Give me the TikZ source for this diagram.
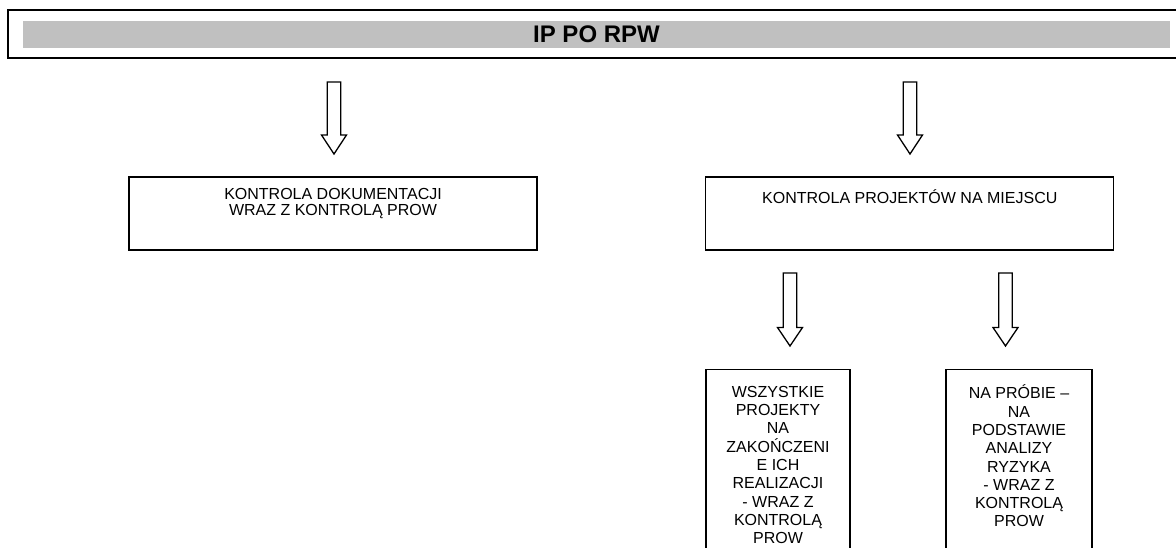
\documentclass[tikz,border=0pt]{standalone}
\usepackage{fontspec}
\setmainfont{Liberation Sans}
\usetikzlibrary{calc}
\definecolor{bandgrey}{HTML}{C0C0C0}
\tikzset{
  frame/.style={draw=black, line width=1.3pt, inner sep=0pt},
  boxtext/.style={align=center, inner sep=0pt, font=\fontsize{16}{16}\selectfont},
  smalltext/.style={align=center, inner sep=0pt, font=\fontsize{16}{18.3}\selectfont},
  barrow/.style={draw=black, line width=1.3pt, fill=white, line join=miter}
}
\newcommand\blockarr[3]{% top coordinate, tip coordinate, head length
  \draw[barrow] ($(#1)+(-6.8,0)$) -- ($(#2)+(-6.8,-#3)$) -- ($(#2)+(-12.5,-#3)$) -- (#2)
    -- ($(#2)+(12.5,-#3)$) -- ($(#2)+(6.8,-#3)$) -- ($(#1)+(6.8,0)$) -- cycle;}
\begin{document}
\begin{tikzpicture}[x=1pt,y=-1pt]
\useasboundingbox (0,0) rectangle (1176,548);
\clip (0,0) rectangle (1176,548);
% title
\node[draw=black, line width=2pt, minimum width=1172pt, minimum height=48pt, inner sep=0pt] (title) at (594,34) {};
\node[fill=bandgrey, minimum width=1147pt, minimum height=27pt, inner sep=0pt,
      font=\fontsize{24}{24}\selectfont\bfseries] (band) at (596.5,34.5) {IP PO RPW};
% boxes
\node[frame, minimum width=408pt, minimum height=73pt] (box1) at (333,213.5) {};
\node[boxtext] (box1t) at (333,203.5) {KONTROLA DOKUMENTACJI\\WRAZ Z KONTROLĄ PROW};
\node[frame, minimum width=408pt, minimum height=73pt] (box2) at (909.8,213.5) {};
\node[boxtext] (box2t) at (909.8,196.7) {KONTROLA PROJEKTÓW NA MIEJSCU};
\node[frame, minimum width=144pt, minimum height=200pt] (box3) at (778,469.3) {};
\node[smalltext] (box3t) at (778,465) {WSZYSTKIE\\PROJEKTY\\NA\\ZAKOŃCZENI\\E ICH\\REALIZACJI\\- WRAZ Z\\KONTROLĄ\\PROW};
\node[frame, minimum width=146pt, minimum height=200pt] (box4) at (1019,469.3) {};
\node[smalltext] (box4t) at (1019,456) {NA PRÓBIE –\\NA\\PODSTAWIE\\ANALIZY\\RYZYKA\\- WRAZ Z\\KONTROLĄ\\PROW};
% arrows
\coordinate (a1s) at (334,82);   \coordinate (a1e) at (334,154);
\coordinate (a2s) at (910,82);   \coordinate (a2e) at (910,154);
\coordinate (a3s) at (790,273);  \coordinate (a3e) at (790,346);
\coordinate (a4s) at (1005.5,273); \coordinate (a4e) at (1005.5,346);
\blockarr{a1s}{a1e}{19}
\blockarr{a2s}{a2e}{19}
\blockarr{a3s}{a3e}{18.5}
\blockarr{a4s}{a4e}{18.5}
\end{tikzpicture}
\end{document}
